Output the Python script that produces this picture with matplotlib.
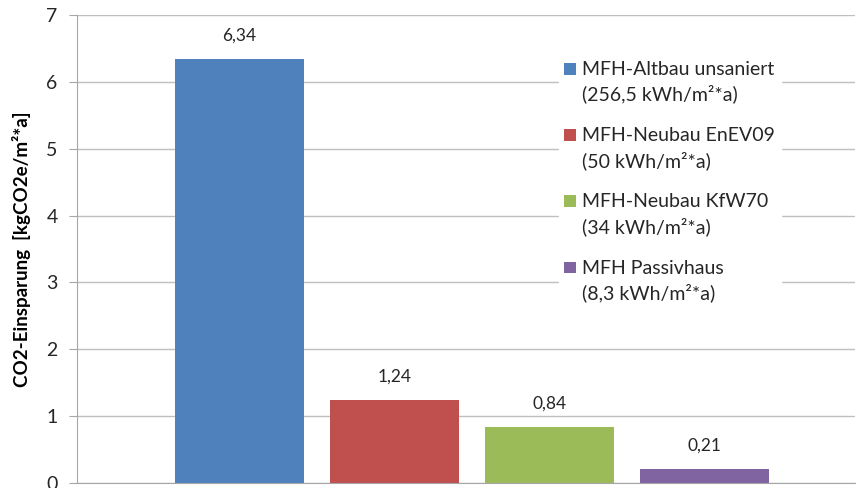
import matplotlib.pyplot as plt

# data
series = ['MFH-Altbau unsaniert\n(256,5 kWh/m²*a)',
          'MFH-Neubau EnEV09\n(50 kWh/m²*a)',
          'MFH-Neubau KfW70\n(34 kWh/m²*a)',
          'MFH Passivhaus\n(8,3 kWh/m²*a)']
values = [6.34, 1.24, 0.84, 0.21]
colors = ['#4f81bd', '#c0504d', '#9bbb59', '#8064a2']

plt.rcParams['font.family'] = ['Lato', 'DejaVu Sans']

fig = plt.figure(figsize=(8.56, 4.88), dpi=100)
ax = fig.add_axes([77 / 856, 5 / 488, 778 / 856, 468 / 488])

xs = list(range(len(values)))
for x, v, c, lab in zip(xs, values, colors, series):
    ax.bar(x, v, width=0.832, color=c, label=lab, zorder=2)
    ax.annotate('{:.2f}'.format(v).replace('.', ','), (x, v),
                xytext=(0, 11), textcoords='offset points',
                ha='center', va='bottom', fontsize=12.5, color='#262626')

ax.set_xlim(-1.048, 3.97)
ax.set_ylim(0, 7)
ax.set_yticks(range(0, 8))
ax.set_xticks([])
ax.yaxis.grid(True, color='#bfbfbf', linewidth=1, zorder=0)
ax.set_axisbelow(True)
for s in ['top', 'right']:
    ax.spines[s].set_visible(False)
for s in ['left', 'bottom']:
    ax.spines[s].set_color('#a6a6a6')
ax.tick_params(axis='y', length=6, color='#a6a6a6', labelsize=14,
               labelcolor='#262626', pad=8)

ax.set_ylabel('CO2-Einsparung  [kgCO2e/m²*a]', fontsize=13.5,
              fontweight='bold', color='#000000', labelpad=11)

leg = ax.legend(loc='upper left', bbox_to_anchor=(0.619, 0.915),
                frameon=True, fontsize=14, labelspacing=1.2,
                handlelength=0.62, handleheight=0.7, handletextpad=0.3,
                borderaxespad=0, borderpad=0.3)
leg.get_frame().set_facecolor('white')
leg.get_frame().set_edgecolor('white')
leg.get_frame().set_alpha(1)
for t in leg.get_texts():
    t.set_color('#262626')
    t.set_linespacing(1.45)
for h in leg.legend_handles:
    h.set_height(8.5)
    h.set_y(h.get_y() + 10.5)

fig.savefig('out.png', dpi=100)
